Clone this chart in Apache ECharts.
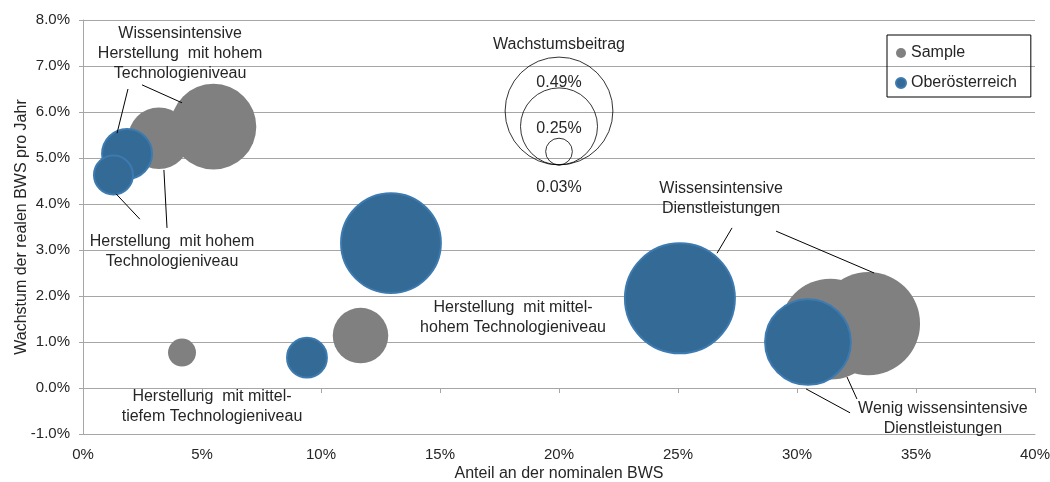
<!DOCTYPE html>
<html>
<head>
<meta charset="utf-8">
<script src="https://cdn.jsdelivr.net/npm/echarts@6/dist/echarts.min.js"></script>
<style>
  html, body { margin: 0; padding: 0; background: #fff; }
  #chart { width: 1050px; height: 482px; }
</style>
</head>
<body>
<div id="chart"></div>
<script>
// Anteil an der nominalen BWS (x, %), Wachstum (y, %), Wachstumsbeitrag (Blasengröße, %)
var sampleShare   = [5.48, 3.19, 4.16, 11.66, 31.4, 33.0];
var sampleGrowth  = [5.68, 5.43, 0.77, 1.14, 1.28, 1.40];
var sampleContrib = [0.31, 0.16, 0.033, 0.13, 0.43, 0.45];

var ooeShare   = [1.85, 1.28, 9.41, 12.94, 25.08, 30.46];
var ooeGrowth  = [5.09, 4.63, 0.66, 3.15, 1.95, 1.00];
var ooeContrib = [0.105, 0.064, 0.067, 0.42, 0.51, 0.31];

// Legende der Blasengrößen
var sizeLegendValues = [0.49, 0.25, 0.03];
var sizeLegendLabels = ['0.49%', '0.25%', '0.03%'];

var xTicks = { min: 0, max: 40, interval: 5 };
var yTicks = { min: -1, max: 8, interval: 1 };

var FONT = '"Liberation Sans", Arial, sans-serif';
var TXT = '#262626';
var GRID = '#a6a6a6';

// Blasenfläche proportional zum Wachstumsbeitrag
function bubbleSize(v) {
	return 2 * 77 * Math.sqrt(v);
}
function pairs(xs, ys, vs) {
	return xs.map(function (x, i) { return [x, ys[i], vs[i]]; });
}

var chart = echarts.init(document.getElementById('chart'));

var option = {
	animation: false,
	textStyle: { fontFamily: FONT, color: TXT },
	grid: { left: 83, right: 15, top: 20, bottom: 48, outerBoundsMode: 'none' },
	legend: {
		data: ['Sample', 'Oberösterreich'],
		orient: 'vertical',
		left: 887,
		top: 35,
		padding: [10, 14, 6, 8],
		itemGap: 14,
		itemWidth: 10,
		itemHeight: 10,
		icon: 'circle',
		borderColor: '#000',
		borderWidth: 1,
		textStyle: { fontSize: 16, color: TXT, fontFamily: FONT }
	},
	xAxis: [{
		type: 'value',
		min: xTicks.min, max: xTicks.max, interval: xTicks.interval,
		position: 'bottom',
		name: 'Anteil an der nominalen BWS',
		nameLocation: 'middle',
		nameGap: 32,
		nameMoveOverlap: false,
		nameTextStyle: { fontSize: 16, color: TXT, fontFamily: FONT },
		axisLine: { onZero: false, lineStyle: { color: GRID } },
		axisTick: { show: false },
		splitLine: { show: false },
		axisLabel: { fontSize: 15, color: TXT, margin: 13, formatter: function (v) { return v + '%'; } }
	}, {
		// Achse bei 0 % mit Teilstrichen
		type: 'value',
		min: xTicks.min, max: xTicks.max, interval: xTicks.interval,
		position: 'bottom',
		axisLine: { onZero: true, lineStyle: { color: GRID } },
		axisTick: { show: true, length: 5, lineStyle: { color: GRID } },
		axisLabel: { show: false },
		splitLine: { show: false }
	}],
	yAxis: {
		type: 'value',
		min: yTicks.min, max: yTicks.max, interval: yTicks.interval,
		name: 'Wachstum der realen BWS pro Jahr',
		nameLocation: 'middle',
		nameGap: 53,
		nameMoveOverlap: false,
		nameTextStyle: { fontSize: 16, color: TXT, fontFamily: FONT },
		axisLine: { show: true, lineStyle: { color: GRID } },
		axisTick: { show: true, length: 4, lineStyle: { color: GRID } },
		splitLine: { lineStyle: { color: GRID } },
		axisLabel: {
			fontSize: 15, color: TXT, margin: 13, padding: [5, 0, 0, 0],
			formatter: function (v) { return v.toFixed(1) + '%'; }
		}
	},
	series: [{
		name: 'Sample',
		type: 'scatter',
		data: pairs(sampleShare, sampleGrowth, sampleContrib),
		symbolSize: function (d) { return bubbleSize(d[2]); },
		itemStyle: { color: '#808080', opacity: 1 },
		silent: true
	}, {
		name: 'Oberösterreich',
		type: 'scatter',
		data: pairs(ooeShare, ooeGrowth, ooeContrib),
		symbolSize: function (d) { return bubbleSize(d[2]); },
		itemStyle: { color: '#336a96', borderColor: '#3c7ab0', borderWidth: 2, opacity: 1 },
		silent: true
	}, {
		name: 'Wachstumsbeitrag',
		type: 'scatter',
		data: sizeLegendValues.map(function (v) { return [20, 4.85, v]; }),
		symbolSize: function (d) { return bubbleSize(d[2]); },
		symbolOffset: [0, '-50%'],
		itemStyle: { color: 'rgba(0,0,0,0)', borderColor: '#000', borderWidth: 1 },
		silent: true
	}]
};
chart.setOption(option);

// Beschriftungen (Datenkoordinaten)
var notes = [
	{ text: 'Wissensintensive\nHerstellung  mit hohem\nTechnologieniveau', at: [4.08, 7.28] },
	{ text: 'Herstellung  mit hohem\nTechnologieniveau', at: [3.74, 2.96] },
	{ text: 'Herstellung  mit mittel-\ntiefem Technologieniveau', at: [5.42, -0.40] },
	{ text: 'Herstellung  mit mittel-\nhohem Technologieniveau', at: [18.07, 1.52] },
	{ text: 'Wissensintensive\nDienstleistungen', at: [26.81, 4.12] },
	{ text: 'Wenig wissensintensive\nDienstleistungen', at: [36.13, -0.66] },
	{ text: 'Wachstumsbeitrag', at: [20, 7.46] },
	{ text: sizeLegendLabels[0], at: [20, 6.65] },
	{ text: sizeLegendLabels[1], at: [20, 5.65] },
	{ text: sizeLegendLabels[2], at: [20, 4.35] }
];
var leaders = [
	[[1.89, 6.5], [1.43, 5.54]],
	[[2.48, 6.59], [4.16, 6.2]],
	[[1.39, 4.22], [2.39, 3.67]],
	[[3.40, 4.74], [3.53, 3.48]],
	[[27.27, 3.48], [26.64, 2.93]],
	[[29.12, 3.41], [33.24, 2.5]],
	[[32.10, 0.24], [32.52, -0.24]],
	[[30.38, -0.02], [32.23, -0.54]]
];

function px(p) {
	return chart.convertToPixel({ xAxisIndex: 0, yAxisIndex: 0 }, p);
}

var elements = [];
leaders.forEach(function (l) {
	var a = px(l[0]), b = px(l[1]);
	elements.push({
		type: 'line', silent: true, z: 10,
		shape: { x1: a[0], y1: a[1], x2: b[0], y2: b[1] },
		style: { stroke: '#000', lineWidth: 1 }
	});
});
notes.forEach(function (n) {
	var p = px(n.at);
	elements.push({
		type: 'text', silent: true, z: 10,
		x: p[0], y: p[1],
		style: {
			text: n.text, fill: TXT, fontSize: 16, fontFamily: FONT,
			lineHeight: 20, align: 'center', verticalAlign: 'middle'
		}
	});
});
chart.setOption({ graphic: elements });
</script>
</body>
</html>
